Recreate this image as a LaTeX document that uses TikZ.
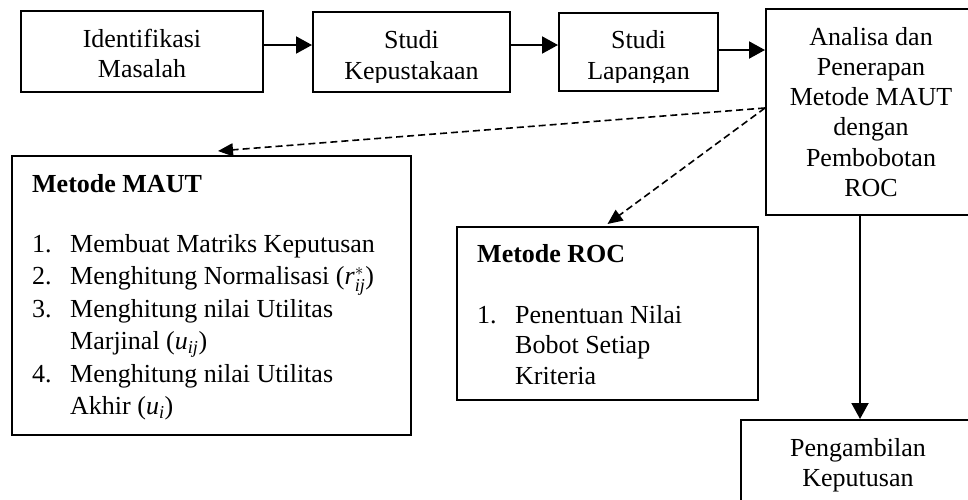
\documentclass[tikz,border=0pt]{standalone}
\usepackage{amsmath}
\usepackage{fontspec}
\setmainfont{Liberation Serif}
\usetikzlibrary{arrows.meta}
\newcommand{\fsz}{\fontsize{26}{30}\selectfont}
\begin{document}
\begin{tikzpicture}[x=1pt,y=-1pt,
  box/.style={draw, line width=2pt, inner sep=0pt},
  txt/.style={anchor=base, inner sep=0pt, font=\fsz},
  ltxt/.style={anchor=base west, inner sep=0pt, font=\fsz},
  arr/.style={-{Triangle[length=16pt,width=17pt]}, line width=2pt},
  darr/.style={-{Triangle[length=15pt,width=13pt]}, line width=1.6pt, dash pattern=on 7pt off 4pt}]
\useasboundingbox (0,0) rectangle (968,499);
\fill[white] (0,0) rectangle (968,499);
\clip (0,0) rectangle (968,499);

% boxes
\node[box, minimum width=242pt, minimum height=81pt] (b1) at (142,51.5) {};
\node[box, minimum width=197pt, minimum height=80pt] (b2) at (411.5,52) {};
\node[box, minimum width=159pt, minimum height=78pt] (b3) at (638.5,52) {};
\node[box, minimum width=210pt, minimum height=206pt] (an) at (871,112) {};
\node[box, minimum width=399pt, minimum height=279pt] (maut) at (211.5,295.5) {};
\node[box, minimum width=301pt, minimum height=173pt] (roc) at (607.5,313.5) {};
\node[box, minimum width=234pt, minimum height=110pt] (pk) at (858,475) {};

% texts of top row
\node[txt] (t1a) at (142,47) {Identifikasi};
\node[txt] (t1b) at (142,77) {Masalah};
\node[txt] (t2a) at (411.5,48) {Studi};
\node[txt] (t3a) at (638.5,48) {Studi};
\begin{scope}
  \clip (300,0) rectangle (730,82);
  \node[txt] (t2b) at (411.5,79) {Kepustakaan};
  \node[txt] (t3b) at (638.5,79) {Lapangan};
\end{scope}

% Analisa box text
\foreach \t [count=\i] in {Analisa dan, Penerapan, Metode MAUT, dengan, Pembobotan, ROC}
  \node[txt] (an\i) at (871,{45+30.3*(\i-1)}) {\t};

% MAUT box text
\node[ltxt, font=\fsz\bfseries] (mt) at (32,192) {Metode MAUT};
\node[ltxt] (mn1) at (32,252) {1.};
\node[ltxt] (ml1) at (70,252) {Membuat Matriks Keputusan};
\node[ltxt] (mn2) at (32,284.5) {2.};
\node[ltxt] (ml2) at (70,284.5) {Menghitung Normalisasi (\textit{r}$^{*}_{\textit{ij}}$)};
\node[ltxt] (mn3) at (32,317) {3.};
\node[ltxt] (ml3) at (70,317) {Menghitung nilai Utilitas};
\node[ltxt] (ml4) at (70,349.5) {Marjinal (\textit{u}$_{\textit{ij}}$)};
\node[ltxt] (mn4) at (32,382) {4.};
\node[ltxt] (ml5) at (70,382) {Menghitung nilai Utilitas};
\node[ltxt] (ml6) at (70,414.5) {Akhir (\textit{u}$_{\textit{i}}$)};

% ROC box text
\node[ltxt, font=\fsz\bfseries] (rt) at (477,262) {Metode ROC};
\node[ltxt] (rn1) at (477,323) {1.};
\node[ltxt] (rl1) at (515,323) {Penentuan Nilai};
\node[ltxt] (rl2) at (515,353.5) {Bobot Setiap};
\node[ltxt] (rl3) at (515,384) {Kriteria};

% bottom box text
\node[txt] (pk1) at (858,456) {Pengambilan};
\node[txt] (pk2) at (858,486) {Keputusan};

% connectors
\coordinate (p1) at ([yshift=6.5pt]b1.east);
\draw[arr] (p1) -- (p1 -| b2.west);
\coordinate (p2) at ([yshift=7pt]b2.east);
\draw[arr] (p2) -- (p2 -| b3.west);
\coordinate (p3) at ([yshift=2pt]b3.east);
\draw[arr] (p3) -- (p3 -| an.west);
\coordinate (p4) at ([yshift=4pt]an.west);
\draw[darr] (p4) -- ([xshift=6.5pt,yshift=4pt]maut.north);
\draw[darr] (p4) -- ([yshift=2pt]roc.north);
\coordinate (p5) at ([xshift=-11pt]an.south);
\draw[arr] (p5) -- (p5 |- pk.north);
\end{tikzpicture}
\end{document}
